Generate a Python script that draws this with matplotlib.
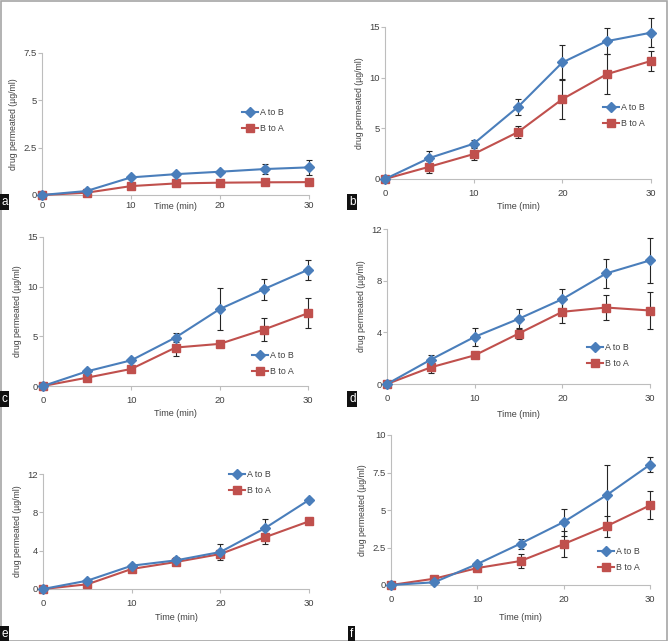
import numpy as np
import matplotlib
matplotlib.use("Agg")
import matplotlib.pyplot as plt
from matplotlib.patches import Rectangle

plt.rcParams['font.family'] = ['Liberation Sans', 'DejaVu Sans']

W, H = 669, 641

## sampling times (min)
time = [0, 5, 10, 15, 20, 25, 30]

## panel a
a_ab = [0, 0.21, 0.93, 1.1, 1.23, 1.37, 1.46]
a_ab_err = [0, 0.05, 0.05, 0.05, 0.05, 0.25, 0.38]
a_ba = [0, 0.12, 0.47, 0.61, 0.65, 0.67, 0.68]
a_ba_err = [0, 0.03, 0.05, 0.05, 0.05, 0.05, 0.05]

## panel b
b_ab = [0, 2.07, 3.48, 7.12, 11.5, 13.6, 14.44]
b_ab_err = [0, 0.7, 0.33, 0.8, 1.75, 1.3, 1.45]
b_ba = [0, 1.21, 2.46, 4.63, 7.88, 10.34, 11.65]
b_ba_err = [0, 0.6, 0.6, 0.6, 1.95, 2.0, 1.0]

## panel c
c_ab = [0, 1.48, 2.59, 4.88, 7.74, 9.75, 11.7]
c_ab_err = [0, 0.25, 0.15, 0.45, 2.1, 1.07, 1.0]
c_ba = [0, 0.84, 1.72, 3.87, 4.24, 5.68, 7.33]
c_ba_err = [0, 0.1, 0.15, 0.85, 0.3, 1.18, 1.53]

## panel d
d_ab = [0, 1.89, 3.65, 5.04, 6.57, 8.56, 9.57]
d_ab_err = [0, 0.34, 0.67, 0.8, 0.78, 1.11, 1.73]
d_ba = [0, 1.29, 2.22, 3.9, 5.59, 5.92, 5.69]
d_ba_err = [0, 0.44, 0.15, 0.4, 0.83, 1.0, 1.45]

## panel e
e_ab = [0, 0.87, 2.43, 2.99, 3.86, 6.33, 9.29]
e_ab_err = [0, 0.1, 0.1, 0.38, 0.8, 0.97, 0.1]
e_ba = [0, 0.49, 2.09, 2.82, 3.65, 5.39, 7.06]
e_ba_err = [0, 0.05, 0.1, 0.1, 0.4, 0.73, 0.1]

## panel f
f_ab = [0, 0.18, 1.4, 2.76, 4.2, 6.0, 8.02]
f_ab_err = [0, 0.05, 0.1, 0.33, 0.9, 2.0, 0.5]
f_ba = [0, 0.42, 1.13, 1.6, 2.73, 3.93, 5.31]
f_ba_err = [0, 0.05, 0.1, 0.46, 0.87, 0.7, 0.93]

## y axis ranges and ticks
a_yticks = [0, 2.5, 5, 7.5]
b_yticks = [0, 5, 10, 15]
c_yticks = [0, 5, 10, 15]
d_yticks = [0, 4, 8, 12]
e_yticks = [0, 4, 8, 12]
f_yticks = [0, 2.5, 5, 7.5, 10]
xticks = [0, 10, 20, 30]

blue = '#4a7ebb'
red = '#c0504d'
spine_c = '#bdbdbd'
text_c = '#404040'

# (letter, ab, ab_err, ba, ba_err, yticks, axes px box, legend px, xlabel offset px, letter box px)
panels = [
    ('a', a_ab, a_ab_err, a_ba, a_ba_err, a_yticks, (42, 309, 195, 53), (242, 108), 7, (1, 202)),
    ('b', b_ab, b_ab_err, b_ba, b_ba_err, b_yticks, (385, 651, 179, 27), (603, 103), 23, (349, 202)),
    ('c', c_ab, c_ab_err, c_ba, c_ba_err, c_yticks, (43, 308, 386, 237), (252, 351), 23, (1, 399)),
    ('d', d_ab, d_ab_err, d_ba, d_ba_err, d_yticks, (387, 650, 384, 229), (587, 343), 26, (349, 399)),
    ('e', e_ab, e_ab_err, e_ba, e_ba_err, e_yticks, (43, 309, 589, 474), (229, 470), 24, (1, 634)),
    ('f', f_ab, f_ab_err, f_ba, f_ba_err, f_yticks, (391, 650, 585, 435), (598, 547), 28, (350, 634)),
]

fig = plt.figure(figsize=(W / 100, H / 100), dpi=100)

for letter, ab, ab_err, ba, ba_err, yt, box, leg, xl_off, lab in panels:
    x0, x1, y0, y1 = box
    ax = fig.add_axes([x0 / W, (H - y0) / H, (x1 - x0) / W, (y0 - y1) / H])
    ax.errorbar(time, ab, yerr=ab_err, fmt='none', ecolor='#262626', elinewidth=0.8,
                capsize=2, capthick=0.8, zorder=2, clip_on=False)
    ax.errorbar(time, ba, yerr=ba_err, fmt='none', ecolor='#262626', elinewidth=0.8,
                capsize=2, capthick=0.8, zorder=2, clip_on=False)
    ax.plot(time, ab, color=blue, lw=1.5, marker='D', ms=4.8, label='A to B', zorder=4, clip_on=False)
    ax.plot(time, ba, color=red, lw=1.5, marker='s', ms=6, label='B to A', zorder=3, clip_on=False)
    ax.set_xlim(0, 30)
    ax.set_ylim(0, yt[-1])
    ax.set_xticks(xticks)
    ax.set_yticks(yt)
    ax.set_yticklabels([('%g' % v) for v in yt])
    for s in ['top', 'right']:
        ax.spines[s].set_visible(False)
    for s in ['left', 'bottom']:
        ax.spines[s].set_color(spine_c)
        ax.spines[s].set_linewidth(0.8)
    ax.tick_params(axis='both', colors=spine_c, labelcolor=text_c, labelsize=6.8,
                   length=3, width=0.8, direction='out')
    ax.tick_params(axis='y', pad=0.5)
    ax.tick_params(axis='x', pad=1 if letter == 'a' else 4)
    ax.set_ylabel('drug permeated (µg/ml)', fontsize=6.3, color=text_c, labelpad=4)
    ax.set_xlabel('Time (min)', fontsize=6.5, color=text_c)
    ax.xaxis.set_label_coords(0.5, -xl_off / (y0 - y1))
    ax.legend(loc='upper left', bbox_to_anchor=(leg[0] / W, 1 - leg[1] / H),
              bbox_transform=fig.transFigure, frameon=False, fontsize=6.4,
              borderpad=0, borderaxespad=0, handlelength=1.8, handletextpad=0.2,
              labelspacing=0.75, labelcolor=text_c)
    fig.text(lab[0] / W, 1 - lab[1] / H, letter, color='white', fontsize=8.5,
             ha='left', va='center',
             bbox=dict(boxstyle='square,pad=0.15', fc='#111111', ec='none'))

fig.patches.append(Rectangle((0.5 / W, 0.5 / H), (W - 2.5) / W, (H - 1.5) / H,
                             transform=fig.transFigure, fill=False, ec='#a6a6a6', lw=1.2))

fig.savefig('out.png', dpi=100)
